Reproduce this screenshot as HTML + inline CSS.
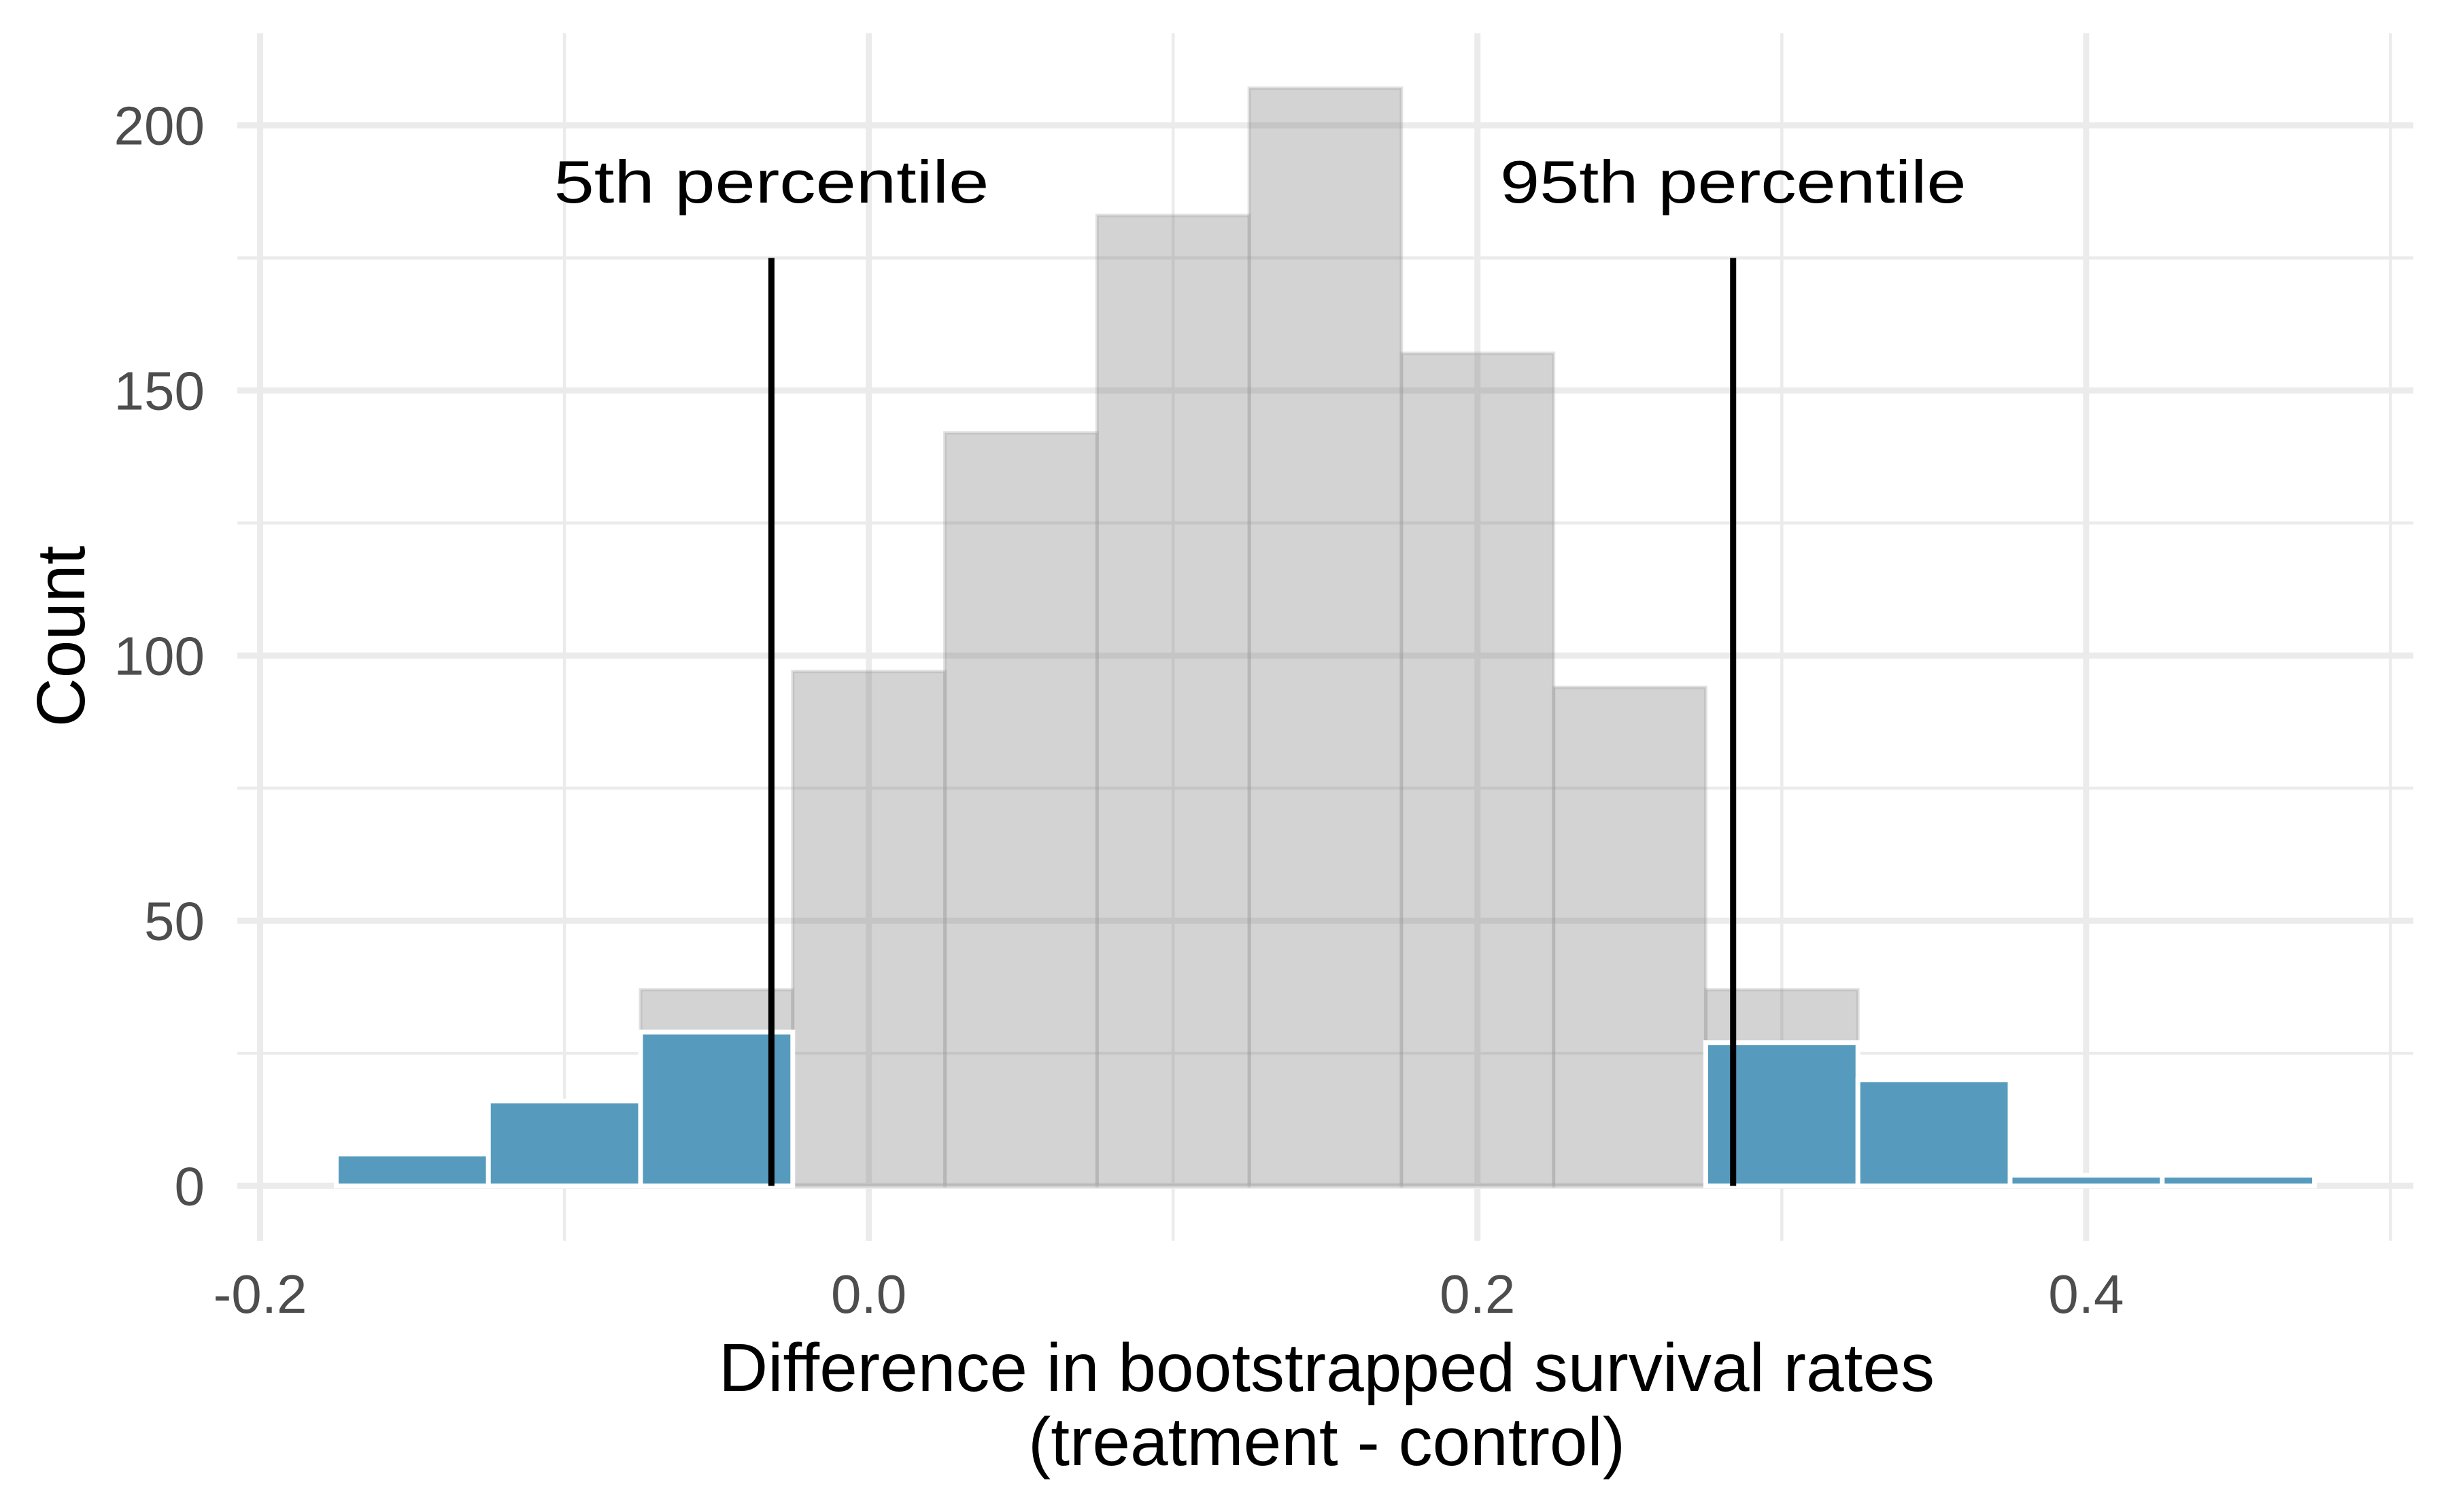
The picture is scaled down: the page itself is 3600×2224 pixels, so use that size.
<!DOCTYPE html>
<html><head><meta charset="utf-8"><style>
html,body{margin:0;padding:0;background:#fff}
svg{display:block}
text{font-family:"Liberation Sans",Arial,sans-serif}
</style></head><body>
<svg id="chart" width="3600" height="2224" viewBox="0 0 3600 2224" xmlns="http://www.w3.org/2000/svg">
<g id="grid"></g>
<g id="bars"></g>
<g id="ann"></g>
<g id="axes"></g>
<text x="1951" y="2046" font-size="100" text-anchor="middle" fill="#000">Difference in bootstrapped survival rates</text>
<text x="1951" y="2155" font-size="100" text-anchor="middle" fill="#000">(treatment - control)</text>
<text x="0" y="0" font-size="100" text-anchor="middle" fill="#000" transform="translate(124,936) rotate(-90)">Count</text>
</svg>
<script>
const binCenters = [-0.15,-0.10,-0.05,0.00,0.05,0.10,0.15,0.20,0.25,0.30,0.35,0.40,0.45];
const allCounts = [6,16,37,97,142,183,207,157,94,37,20,2,2];
const tailCenters = [-0.15,-0.10,-0.05,0.30,0.35,0.40,0.45];
const tailCounts = [6,16,29,27,20,2,2];
const binWidth = 0.05;
const percentileValues = [-0.032,0.284];
const percentileLabels = ["5th percentile","95th percentile"];
const percentileLineTop = 175;
const xTicks = [-0.2,0.0,0.2,0.4];
const xTickLabels = ["-0.2","0.0","0.2","0.4"];
const xMinor = [-0.1,0.1,0.3,0.5];
const yTicks = [0,50,100,150,200];
const yTickLabels = ["0","50","100","150","200"];
const yMinor = [25,75,125,175];

const NS="http://www.w3.org/2000/svg";
const L=349,R=3549,T=49,B=1825;
const xMin=-0.2075,xMax=0.5075,yMin=-10.35,yMax=217.35;
function sx(v){return L+(v-xMin)/(xMax-xMin)*(R-L);}
function sy(v){return B-(v-yMin)/(yMax-yMin)*(B-T);}
function mk(tag,attrs,parent){const e=document.createElementNS(NS,tag);for(const k in attrs)e.setAttribute(k,attrs[k]);parent.appendChild(e);return e;}
const grid=document.getElementById('grid'),bars=document.getElementById('bars'),ann=document.getElementById('ann'),axes=document.getElementById('axes');

yMinor.forEach(v=>{const e=mk('line',{x1:L,x2:R,y1:sy(v),y2:sy(v),stroke:'#ebebeb','stroke-width':4.5},grid);

});
xMinor.forEach(v=>{const e=mk('line',{x1:sx(v),x2:sx(v),y1:T,y2:B,stroke:'#ebebeb','stroke-width':4.5},grid);

});
yTicks.forEach((v,i)=>{const e=mk('line',{x1:L,x2:R,y1:sy(v),y2:sy(v),stroke:'#ebebeb','stroke-width':9},grid);


const t=mk('text',{x:301,y:sy(v)+28,'font-size':80,'text-anchor':'end',fill:'#4d4d4d'},axes);t.textContent=yTickLabels[i];

});
xTicks.forEach((v,i)=>{const e=mk('line',{x1:sx(v),x2:sx(v),y1:T,y2:B,stroke:'#ebebeb','stroke-width':9},grid);


const t=mk('text',{x:sx(v),y:1931,'font-size':80,'text-anchor':'middle',fill:'#4d4d4d'},axes);t.textContent=xTickLabels[i];

});

binCenters.forEach((c,i)=>{const x0=sx(c-binWidth/2),x1=sx(c+binWidth/2),y=sy(allCounts[i]),y0=sy(0);
const r=mk('rect',{x:x0,y:y,width:x1-x0,height:y0-y,fill:'#6c6c6c','fill-opacity':0.3,stroke:'#a0a0a0','stroke-opacity':0.3,'stroke-width':5},bars);

});
tailCenters.forEach((c,i)=>{const x0=sx(c-binWidth/2),x1=sx(c+binWidth/2),y=sy(tailCounts[i]),y0=sy(0);
const r=mk('rect',{x:x0,y:y,width:x1-x0,height:y0-y,fill:'#569bbd',stroke:'#ffffff','stroke-width':7},bars);

});

percentileValues.forEach((v,i)=>{const l=mk('line',{x1:sx(v),x2:sx(v),y1:sy(0),y2:sy(percentileLineTop),stroke:'#000','stroke-width':9},ann);


const w=percentileLabels[i].length*45.7;
const t=mk('text',{x:sx(v),y:298,'font-size':88,'text-anchor':'middle',fill:'#000',textLength:w,lengthAdjust:'spacingAndGlyphs'},ann);t.textContent=percentileLabels[i];

});
</script>
</body></html>
